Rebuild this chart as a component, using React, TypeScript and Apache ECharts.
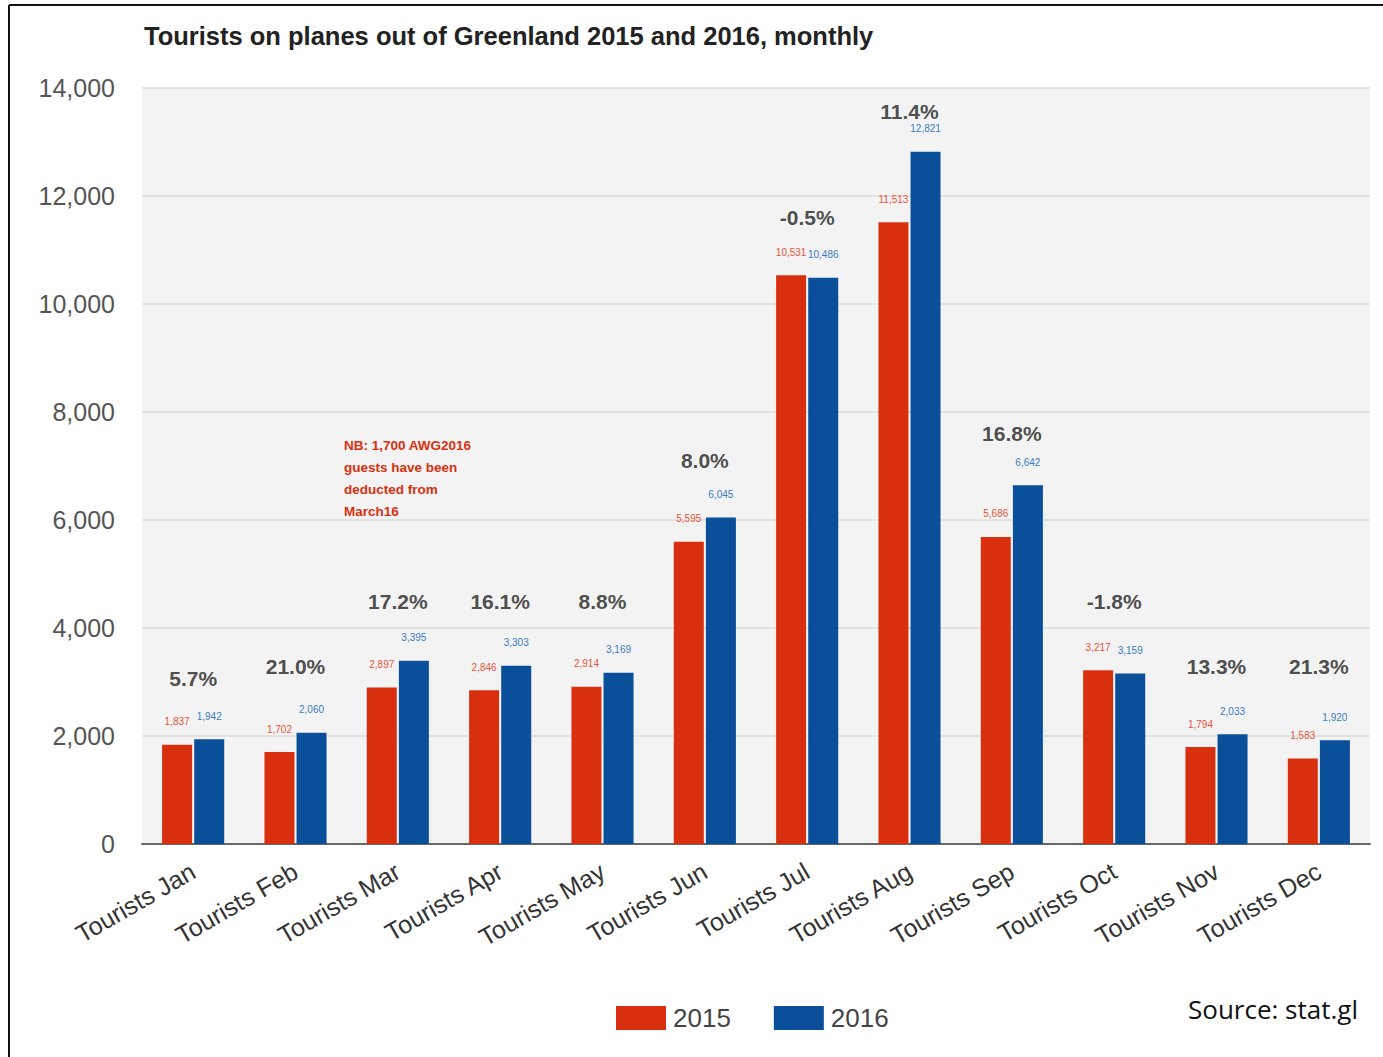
import React, { useEffect, useRef } from "react";
import * as echarts from "echarts";

const categories = [
  "Tourists Jan", "Tourists Feb", "Tourists Mar", "Tourists Apr", "Tourists May", "Tourists Jun",
  "Tourists Jul", "Tourists Aug", "Tourists Sep", "Tourists Oct", "Tourists Nov", "Tourists Dec",
];
const values2015 = [1837, 1702, 2897, 2846, 2914, 5595, 10531, 11513, 5686, 3217, 1794, 1583];
const values2016 = [1942, 2060, 3395, 3303, 3169, 6045, 10486, 12821, 6642, 3159, 2033, 1920];
const changeLabels = ["5.7%", "21.0%", "17.2%", "16.1%", "8.8%", "8.0%", "-0.5%", "11.4%", "16.8%", "-1.8%", "13.3%", "21.3%"];
// vertical placement of the change labels, in axis units
const changeLabelLevels = [3056, 3296, 4500, 4500, 4500, 7111, 11593, 13574, 7593, 4500, 3296, 3296];
const yTicks = { min: 0, max: 14000, interval: 2000 };
const noteLines = ["NB: 1,700 AWG2016", "guests have been", "deducted from", "March16"];

const RED = "#d8300f";
const BLUE = "#0a4f99";
const FONT = "'Liberation Sans', Arial, sans-serif";

const fmt = (v: number) => v.toLocaleString("en-US");

export default function App() {
  const ref = useRef<HTMLDivElement>(null);
  useEffect(() => {
    if (!ref.current) return;
    const chart = echarts.init(ref.current, null, { renderer: "svg" });
    chart.setOption({
      animation: false,
      backgroundColor: "#ffffff",
      textStyle: { fontFamily: FONT },
      title: {
        text: "Tourists on planes out of Greenland 2015 and 2016, monthly",
        left: 139,
        top: 18,
        textStyle: { fontSize: 25.5, fontWeight: "bold", color: "#222", fontFamily: FONT },
      },
      grid: {
        left: 142,
        right: 13,
        top: 88,
        bottom: 213,
        show: true,
        backgroundColor: "#f3f3f3",
        borderWidth: 0,
      },
      legend: {
        data: ["2015", "2016"],
        left: 611,
        top: 1000,
        itemWidth: 50,
        itemHeight: 24,
        itemGap: 43,
        icon: "rect",
        textStyle: { fontSize: 26, color: "#444", fontFamily: FONT, padding: [0, 0, 0, 2] },
      },
      xAxis: {
        type: "category",
        data: categories,
        axisLine: { lineStyle: { color: "#666", width: 2 } },
        axisTick: { show: false },
        axisLabel: { rotate: 30, fontSize: 25, color: "#333", margin: 25, interval: 0 },
      },
      yAxis: {
        type: "value",
        min: yTicks.min,
        max: yTicks.max,
        interval: yTicks.interval,
        axisLine: { show: false },
        axisTick: { show: false },
        splitLine: { lineStyle: { color: "#dcdcdc", width: 1.5 } },
        axisLabel: {
          fontSize: 25,
          color: "#555",
          margin: 27,
          formatter: (v: number) => fmt(v),
        },
      },
      series: [
        {
          name: "2015",
          type: "bar",
          data: values2015,
          barWidth: 30,
          barGap: "7%",
          itemStyle: { color: RED },
          label: {
            show: true,
            position: "top",
            distance: 18,
            fontSize: 10,
            color: "#e5533b",
            formatter: (p: any) => fmt(p.value),
          },
        },
        {
          name: "2016",
          type: "bar",
          data: values2016,
          barWidth: 30,
          itemStyle: { color: BLUE },
          label: {
            show: true,
            position: "top",
            distance: 18,
            fontSize: 10,
            color: "#3a7cc4",
            formatter: (p: any) => fmt(p.value),
          },
        },
        {
          name: "change",
          type: "scatter",
          data: changeLabelLevels.map((v, i) => [i, v]),
          symbolSize: 1,
          itemStyle: { color: "rgba(0,0,0,0)" },
          silent: true,
          label: {
            show: true,
            position: "inside",
            fontSize: 21,
            fontWeight: "bold",
            color: "#222",
            formatter: (p: any) => changeLabels[p.dataIndex],
          },
          z: 5,
        },
      ],
      graphic: [
        { type: "line", shape: { x1: 9, y1: 5, x2: 1383, y2: 5 }, style: { stroke: "#111", lineWidth: 2 } },
        { type: "line", shape: { x1: 9, y1: 5, x2: 9, y2: 1057 }, style: { stroke: "#111", lineWidth: 2 } },
        {
          type: "text",
          left: 344,
          top: 434,
          style: {
            text: noteLines.join("\n"),
            fill: "#d8300f",
            fontSize: 13.5,
            fontWeight: "bold",
            lineHeight: 22,
            fontFamily: FONT,
          },
        },
        {
          type: "text",
          left: 1188,
          top: 996,
          style: {
            text: "Source: stat.gl",
            fill: "#111",
            fontSize: 26,
            fontFamily: "'Open Sans', 'Noto Sans', sans-serif",
          },
        },
      ],
    });
    return () => chart.dispose();
  }, []);
  return (
    <div
      ref={ref}
      style={{ position: "fixed", left: 0, top: 0, width: 1383, height: 1057 }}
    />
  );
}
